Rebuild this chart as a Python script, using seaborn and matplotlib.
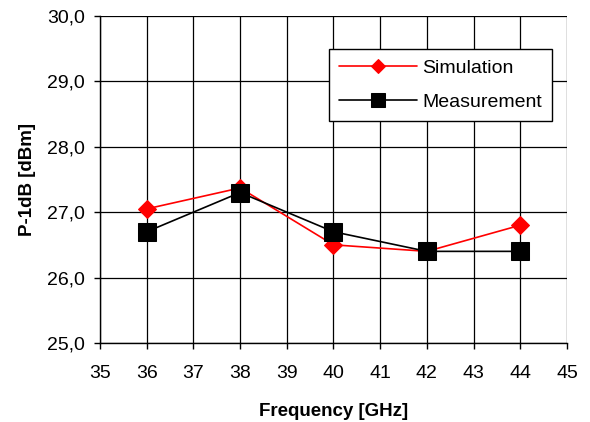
import matplotlib
matplotlib.use("Agg")
import matplotlib.pyplot as plt
import seaborn as sns
import pandas as pd
from matplotlib.ticker import FuncFormatter, MultipleLocator

freq = [36, 38, 40, 42, 44]
simulation = [27.05, 27.37, 26.5, 26.4, 26.8]
measurement = [26.7, 27.3, 26.7, 26.4, 26.4]

sns.set_style("white")
plt.rcParams['font.family'] = ['Liberation Sans', 'DejaVu Sans']
plt.rcParams['text.color'] = 'black'
plt.rcParams['axes.labelcolor'] = 'black'
plt.rcParams['xtick.color'] = 'black'
plt.rcParams['ytick.color'] = 'black'

df = pd.DataFrame({"freq": freq * 2,
                   "val": simulation + measurement,
                   "series": ["Simulation"] * 5 + ["Measurement"] * 5})

fig = plt.figure(figsize=(5.9, 4.22), dpi=100)
ax = fig.add_axes([0.1695, 0.1875, 0.7915, 0.7745])

sns.lineplot(data=df[df.series == "Simulation"], x="freq", y="val", ax=ax,
             color="#ff0000", marker="D", markersize=9.5, linewidth=1.2,
             markeredgecolor="#ff0000", label="Simulation", zorder=3)
sns.lineplot(data=df[df.series == "Measurement"], x="freq", y="val", ax=ax,
             color="black", marker="s", markersize=12.5, linewidth=1.2,
             markeredgecolor="black", label="Measurement", zorder=4)

ax.set_xlim(35, 45)
ax.set_ylim(25, 30)
ax.xaxis.set_major_locator(MultipleLocator(1))
ax.yaxis.set_major_locator(MultipleLocator(1))
ax.yaxis.set_major_formatter(FuncFormatter(lambda v, p: f"{v:.1f}".replace(".", ",")))
ax.grid(True, color="black", linewidth=0.9)
for s in ["top", "right"]:
    ax.spines[s].set_visible(False)
for s in ["left", "bottom"]:
    ax.spines[s].set_color("black")
    ax.spines[s].set_linewidth(1.0)
ax.tick_params(axis="both", direction="out", length=4, width=1, color="black",
               labelsize=14, left=True, bottom=True)
ax.tick_params(axis="x", pad=12)
ax.tick_params(axis="y", pad=7)
ax.set_xlabel("Frequency [GHz]", fontsize=13.5, fontweight="bold", labelpad=15)
ax.set_ylabel("P-1dB [dBm]", fontsize=13.5, fontweight="bold", labelpad=8)

leg = ax.legend(loc="upper right", bbox_to_anchor=(0.968, 0.898), fontsize=14,
                frameon=True, fancybox=False, edgecolor="black", framealpha=1,
                handlelength=4.0, handletextpad=0.3, borderpad=0.5,
                labelspacing=0.85, markerscale=0.75, borderaxespad=0)
leg.get_frame().set_linewidth(1.0)

fig.savefig("out.png", dpi=100)
